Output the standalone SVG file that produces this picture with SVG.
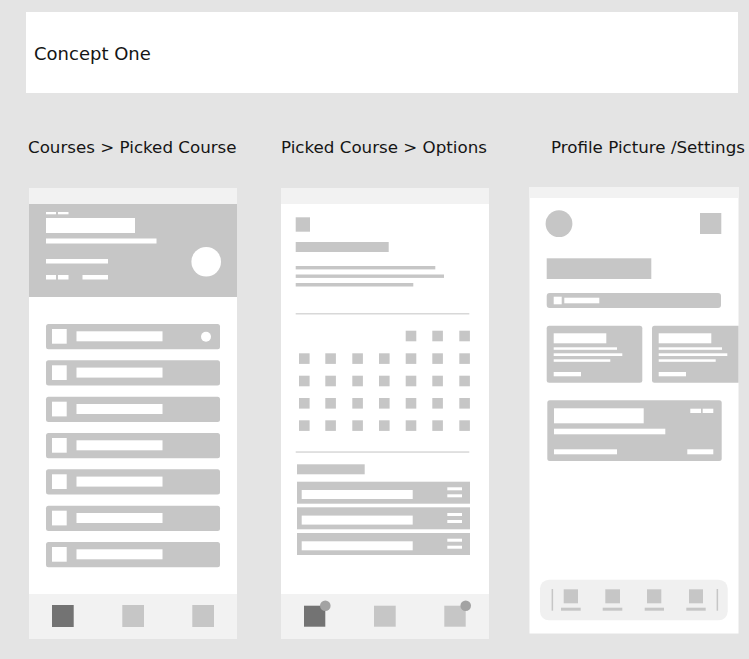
<svg xmlns="http://www.w3.org/2000/svg" width="749" height="659" viewBox="0 0 749 659">
<style>
.t{font-family:"DejaVu Sans","Liberation Sans",sans-serif;fill:#151515}
.g{fill:#c6c6c6}
.w{fill:#ffffff}
.l{fill:#f2f2f2}
.d{fill:#737373}
.dv{fill:#d8d8d8}
.b{fill:#a3a3a3}
</style>
<defs>
<clipPath id="p3clip"><rect x="529.5" y="187" width="209" height="446.5"/></clipPath>
</defs>
<rect x="0" y="0" width="749" height="659" fill="#e4e4e4"/>

<g id="title">
<rect x="26" y="12" width="712" height="81" fill="#ffffff"/>
<text class="t" x="34" y="60" font-size="18">Concept One</text>
</g>

<g id="labels">
<text class="t" x="28" y="153" font-size="16.7">Courses &gt; Picked Course</text>
<text class="t" x="281" y="153" font-size="16.7">Picked Course &gt; Options</text>
<text class="t" x="551" y="153" font-size="16.7">Profile Picture /Settings</text>
</g>

<g id="phone1">
<rect x="29" y="188" width="208" height="451" class="w"/>
<rect x="29" y="188" width="208" height="16" class="l"/>
<rect x="29" y="204" width="208" height="93" class="g"/>
<rect x="46" y="212" width="10" height="2.3" class="w"/>
<rect x="58" y="212" width="10.5" height="2.3" class="w"/>
<rect x="46" y="218" width="89" height="15" class="w"/>
<rect x="46" y="238.5" width="110.5" height="5" class="w"/>
<rect x="46" y="259" width="62" height="4.5" class="w"/>
<rect x="46" y="275" width="10" height="4.5" class="w"/>
<rect x="58" y="275" width="10.5" height="4.5" class="w"/>
<rect x="82.5" y="275" width="25.5" height="4.5" class="w"/>
<circle cx="206.2" cy="261.7" r="14.8" class="w"/>
<g id="p1list">
<rect x="46" y="324" width="174" height="25.3" rx="2.5" class="g"/>
<rect x="52" y="329" width="14.7" height="14.7" class="w"/>
<rect x="76.5" y="331.3" width="86" height="10" class="w"/>
<circle cx="206" cy="336.7" r="5" class="w"/>
<rect x="46" y="360.3" width="174" height="25.3" rx="2.5" class="g"/>
<rect x="52" y="365.3" width="14.7" height="14.7" class="w"/>
<rect x="76.5" y="367.6" width="86" height="10" class="w"/>
<rect x="46" y="396.7" width="174" height="25.3" rx="2.5" class="g"/>
<rect x="52" y="401.7" width="14.7" height="14.7" class="w"/>
<rect x="76.5" y="404" width="86" height="10" class="w"/>
<rect x="46" y="433" width="174" height="25.3" rx="2.5" class="g"/>
<rect x="52" y="438" width="14.7" height="14.7" class="w"/>
<rect x="76.5" y="440.3" width="86" height="10" class="w"/>
<rect x="46" y="469.3" width="174" height="25.3" rx="2.5" class="g"/>
<rect x="52" y="474.3" width="14.7" height="14.7" class="w"/>
<rect x="76.5" y="476.6" width="86" height="10" class="w"/>
<rect x="46" y="505.7" width="174" height="25.3" rx="2.5" class="g"/>
<rect x="52" y="510.7" width="14.7" height="14.7" class="w"/>
<rect x="76.5" y="513" width="86" height="10" class="w"/>
<rect x="46" y="542" width="174" height="25.3" rx="2.5" class="g"/>
<rect x="52" y="547" width="14.7" height="14.7" class="w"/>
<rect x="76.5" y="549.3" width="86" height="10" class="w"/>
</g>
<rect x="29" y="594" width="208" height="45" class="l"/>
<rect x="52" y="605" width="21.7" height="22" class="d"/>
<rect x="122.3" y="605" width="21.7" height="22" class="g"/>
<rect x="192.3" y="605" width="21.7" height="22" class="g"/>
</g>

<g id="phone2">
<rect x="281" y="188" width="208" height="451" class="w"/>
<rect x="281" y="188" width="208" height="16" class="l"/>
<rect x="295.7" y="217.3" width="14.3" height="14.4" class="g"/>
<rect x="295.7" y="242" width="93" height="10" class="g"/>
<rect x="295.7" y="266" width="139.6" height="3.4" class="g"/>
<rect x="295.7" y="274.5" width="148.3" height="3.4" class="g"/>
<rect x="295.7" y="283" width="117.6" height="3.5" class="g"/>
<rect x="295.7" y="313" width="173.6" height="1.5" class="dv"/>
<g id="p2grid" class="g">
<rect x="405.7" y="330.7" width="10.6" height="10.6"/>
<rect x="432.3" y="330.7" width="10.6" height="10.6"/>
<rect x="459.3" y="330.7" width="10.6" height="10.6"/>
<rect x="299" y="353.3" width="10.6" height="10.6"/>
<rect x="325.3" y="353.3" width="10.6" height="10.6"/>
<rect x="352.3" y="353.3" width="10.6" height="10.6"/>
<rect x="379" y="353.3" width="10.6" height="10.6"/>
<rect x="405.7" y="353.3" width="10.6" height="10.6"/>
<rect x="432.3" y="353.3" width="10.6" height="10.6"/>
<rect x="459.3" y="353.3" width="10.6" height="10.6"/>
<rect x="299" y="375.7" width="10.6" height="10.6"/>
<rect x="325.3" y="375.7" width="10.6" height="10.6"/>
<rect x="352.3" y="375.7" width="10.6" height="10.6"/>
<rect x="379" y="375.7" width="10.6" height="10.6"/>
<rect x="405.7" y="375.7" width="10.6" height="10.6"/>
<rect x="432.3" y="375.7" width="10.6" height="10.6"/>
<rect x="459.3" y="375.7" width="10.6" height="10.6"/>
<rect x="299" y="398" width="10.6" height="10.6"/>
<rect x="325.3" y="398" width="10.6" height="10.6"/>
<rect x="352.3" y="398" width="10.6" height="10.6"/>
<rect x="379" y="398" width="10.6" height="10.6"/>
<rect x="405.7" y="398" width="10.6" height="10.6"/>
<rect x="432.3" y="398" width="10.6" height="10.6"/>
<rect x="459.3" y="398" width="10.6" height="10.6"/>
<rect x="299" y="420.3" width="10.6" height="10.6"/>
<rect x="325.3" y="420.3" width="10.6" height="10.6"/>
<rect x="352.3" y="420.3" width="10.6" height="10.6"/>
<rect x="379" y="420.3" width="10.6" height="10.6"/>
<rect x="405.7" y="420.3" width="10.6" height="10.6"/>
<rect x="432.3" y="420.3" width="10.6" height="10.6"/>
<rect x="459.3" y="420.3" width="10.6" height="10.6"/>
</g>
<rect x="295.7" y="451.3" width="173.6" height="1.5" class="dv"/>
<rect x="297" y="464.3" width="67.7" height="10" class="g"/>
<rect x="297" y="481.7" width="173" height="22" class="g"/>
<rect x="301.7" y="490" width="111" height="9" class="w"/>
<rect x="447.3" y="487.3" width="14.7" height="3" class="w"/>
<rect x="447.3" y="494.3" width="14.7" height="3" class="w"/>
<rect x="297" y="507.3" width="173" height="22" class="g"/>
<rect x="301.7" y="515.6" width="111" height="9" class="w"/>
<rect x="447.3" y="513" width="14.7" height="3" class="w"/>
<rect x="447.3" y="520" width="14.7" height="3" class="w"/>
<rect x="297" y="533" width="173" height="22" class="g"/>
<rect x="301.7" y="541.3" width="111" height="9" class="w"/>
<rect x="447.3" y="538.7" width="14.7" height="3" class="w"/>
<rect x="447.3" y="545.7" width="14.7" height="3" class="w"/>
<rect x="281" y="594" width="208" height="45" class="l"/>
<rect x="304" y="605.7" width="21.3" height="21" class="d"/>
<circle cx="325.3" cy="605.7" r="5.3" class="b"/>
<rect x="374" y="605.7" width="21.7" height="21" class="g"/>
<rect x="444.3" y="605.7" width="21.4" height="21" class="g"/>
<circle cx="465.7" cy="605.7" r="5.3" class="b"/>
</g>

<g id="phone3">
<rect x="529.5" y="187" width="209" height="446.5" class="w"/>
<rect x="529.5" y="187" width="209" height="11" class="l"/>
<circle cx="559" cy="223.7" r="13.4" class="g"/>
<rect x="700" y="213" width="21.3" height="21" class="g"/>
<rect x="546.7" y="258.3" width="104.6" height="20.7" class="g"/>
<rect x="546.7" y="293" width="174.3" height="15" rx="3" class="g"/>
<rect x="553.7" y="296.7" width="8" height="7.6" class="w"/>
<rect x="564.3" y="297.7" width="35" height="5.6" class="w"/>
<g clip-path="url(#p3clip)">
<rect x="546.7" y="325.7" width="95.6" height="57" rx="2.5" class="g"/>
<rect x="553.7" y="333.3" width="52.6" height="10" class="w"/>
<rect x="553.7" y="347.3" width="63.3" height="2.5" class="w"/>
<rect x="553.7" y="353.3" width="68.6" height="2.7" class="w"/>
<rect x="553.7" y="359.3" width="56.6" height="2.5" class="w"/>
<rect x="553.7" y="372" width="27.3" height="4.3" class="w"/>
<rect x="652" y="325.7" width="95.6" height="57" rx="2.5" class="g"/>
<rect x="658.7" y="333.3" width="52.6" height="10" class="w"/>
<rect x="658.7" y="347.3" width="63.3" height="2.5" class="w"/>
<rect x="658.7" y="353.3" width="68.6" height="2.7" class="w"/>
<rect x="658.7" y="359.3" width="57" height="2.5" class="w"/>
<rect x="658.7" y="372" width="27.3" height="4.3" class="w"/>
</g>
<rect x="547.3" y="400.3" width="174.4" height="60.7" rx="2.5" class="g"/>
<rect x="554" y="408.3" width="89.7" height="15" class="w"/>
<rect x="554" y="428.7" width="111.3" height="5.6" class="w"/>
<rect x="690.3" y="408.7" width="10.7" height="4.3" class="w"/>
<rect x="702.7" y="408.7" width="10.6" height="4.3" class="w"/>
<rect x="554" y="449.3" width="63" height="5" class="w"/>
<rect x="687.3" y="449.3" width="26" height="5" class="w"/>
<rect x="540" y="579.7" width="187.7" height="40.6" rx="9" fill="#f0f0f0"/>
<rect x="551.6" y="589" width="1.5" height="21.7" class="g"/>
<rect x="716.6" y="589" width="1.5" height="21.7" class="g"/>
<rect x="563.7" y="589.3" width="14.3" height="14" class="g"/>
<rect x="561" y="607.7" width="19.7" height="3" class="g"/>
<rect x="605.3" y="589.3" width="14.7" height="14" class="g"/>
<rect x="602.7" y="607.7" width="19.6" height="3" class="g"/>
<rect x="647" y="589.3" width="14.3" height="14" class="g"/>
<rect x="644.7" y="607.7" width="19.3" height="3" class="g"/>
<rect x="689" y="589.3" width="14" height="14" class="g"/>
<rect x="686.3" y="607.7" width="19.4" height="3" class="g"/>
</g>
</svg>
